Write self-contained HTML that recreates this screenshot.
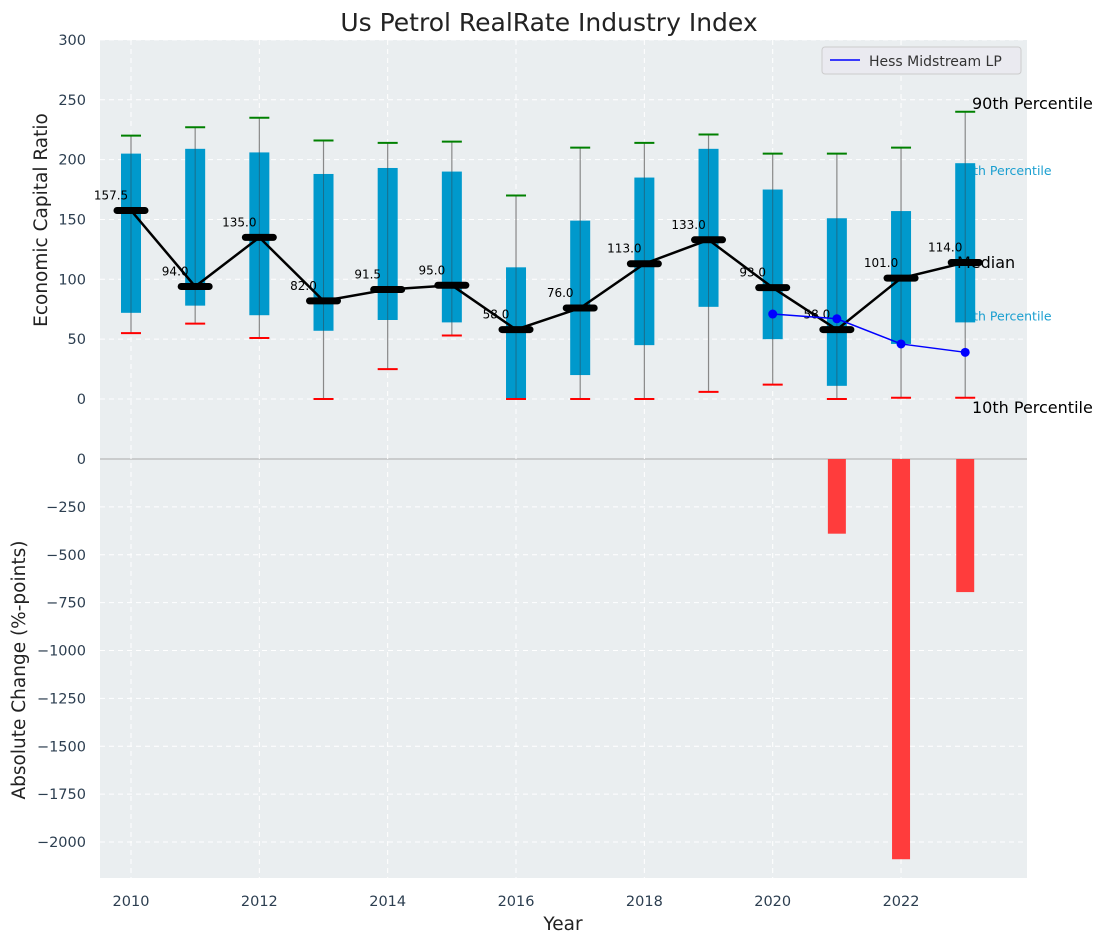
<!DOCTYPE html>
<html><head><meta charset="utf-8"><style>
body{margin:0;background:#fff;}
svg{display:block;font-family:"DejaVu Sans","Liberation Sans",sans-serif;}
</style></head><body>
<svg id="c" width="1107" height="942" xmlns="http://www.w3.org/2000/svg"></svg>
<script>
const years=[2010,2011,2012,2013,2014,2015,2016,2017,2018,2019,2020,2021,2022,2023];
const whiskerLow=[55,63,51,0,25,53,0,0,0,6,12,0,1,1];
const whiskerHigh=[220,227,235,216,214,215,170,210,214,221,205,205,210,240];
const boxLow=[72,78,70,57,66,64,0,20,45,77,50,11,46,64];
const boxHigh=[205,209,206,188,193,190,110,149,185,209,175,151,157,197];
const medians=[157.5,94,135,82,91.5,95,58,76,113,133,93,58,101,114];
const hessYears=[2020,2021,2022,2023];
const hessValues=[71,67,46,39];
const changeYears=[2021,2022,2023];
const changeValues=[-390,-2090,-695];
const topTicks=[0,50,100,150,200,250,300];
const botTicks=[0,-250,-500,-750,-1000,-1250,-1500,-1750,-2000];
const xTicks=[2010,2012,2014,2016,2018,2020,2022];

const NS="http://www.w3.org/2000/svg",svg=document.getElementById('c');
const X=v=>131+(v-2010)*64.17;
const YT=v=>399-v*1.197;
const YB=v=>459-v*0.1915;
function el(t,a,p){const e=document.createElementNS(NS,t);for(const k in a)e.setAttribute(k,a[k]);(p||svg).appendChild(e);return e;}
function tx(s,a){const e=el('text',a);e.textContent=s;return e;}

let r=el('rect',{x:100,y:40,width:927,height:419,fill:'#eaeef0'});

r=el('rect',{x:100,y:459,width:927,height:419,fill:'#eaeef0'});

el('line',{x1:100,x2:1027,y1:459,y2:459,stroke:'#aaa','stroke-width':1});
xTicks.forEach(v=>{el('line',{x1:X(v),x2:X(v),y1:40,y2:878,stroke:'#fff','stroke-dasharray':'5,4','stroke-width':1});
 const t=tx(String(v),{x:X(v),y:906,'text-anchor':'middle','font-size':14.5,fill:'#2c3e50'});
 });
topTicks.forEach(v=>{el('line',{x1:100,x2:1027,y1:YT(v),y2:YT(v),stroke:'#fff','stroke-dasharray':'5,4'});
 const t=tx(String(v),{x:86,y:YT(v)+5,'text-anchor':'end','font-size':14.5,fill:'#2c3e50'});
 });
botTicks.forEach(v=>{if(v!==0)el('line',{x1:100,x2:1027,y1:YB(v),y2:YB(v),stroke:'#fff','stroke-dasharray':'5,4'});
 const t=tx(String(v).replace('-','−'),{x:86,y:YB(v)+5,'text-anchor':'end','font-size':14.5,fill:'#2c3e50'});
 });

const last=years.length-1,lx=X(years[last]);
let a=tx('75th Percentile',{x:lx-8,y:YT(boxHigh[last])+12,'font-size':12.5,fill:'#1a9fd0'});

a=tx('25th Percentile',{x:lx-8,y:YT(boxLow[last])-2,'font-size':12.5,fill:'#1a9fd0'});


years.forEach((y,i)=>{
 const x=X(y);
 let w=el('line',{x1:x,x2:x,y1:YT(whiskerLow[i]),y2:YT(whiskerHigh[i]),stroke:'#888','stroke-width':1.2});
 
 let b=el('rect',{x:x-10,y:YT(boxHigh[i]),width:20,height:YT(boxLow[i])-YT(boxHigh[i]),fill:'#0099cc'});
 
 el('line',{x1:x,x2:x,y1:YT(boxLow[i]),y2:YT(boxHigh[i]),stroke:'#2a5060','stroke-width':1,opacity:0.6});
 let c=el('line',{x1:x-10,x2:x+10,y1:YT(whiskerHigh[i]),y2:YT(whiskerHigh[i]),stroke:'green','stroke-width':2});
 
 c=el('line',{x1:x-10,x2:x+10,y1:YT(whiskerLow[i]),y2:YT(whiskerLow[i]),stroke:'red','stroke-width':2});
 
});
let pl=el('polyline',{points:years.map((y,i)=>X(y)+','+YT(medians[i])).join(' '),fill:'none',stroke:'#000','stroke-width':2.5});

years.forEach((y,i)=>{
 const x=X(y);
 let m=el('line',{x1:x-14,x2:x+14,y1:YT(medians[i]),y2:YT(medians[i]),stroke:'#000','stroke-width':7,'stroke-linecap':'round'});
 
 let t=tx(medians[i].toFixed(1),{x:x-20,y:YT(medians[i])-11,'text-anchor':'middle','font-size':12,fill:'#000'});
 
});
pl=el('polyline',{points:hessYears.map((y,i)=>X(y)+','+YT(hessValues[i])).join(' '),fill:'none',stroke:'#0000ff','stroke-width':1.5});

hessYears.forEach((y,i)=>{let p=el('circle',{cx:X(y),cy:YT(hessValues[i]),r:4.5,fill:'#0000ff'});
 });
a=tx('90th Percentile',{x:972,y:109,'font-size':16,fill:'#000'});
a=tx('Median',{x:957,y:268,'font-size':16,fill:'#000'});
a=tx('10th Percentile',{x:972,y:413,'font-size':16,fill:'#000'});
changeYears.forEach((y,i)=>{let b=el('rect',{x:X(y)-9,y:YB(0),width:18,height:YB(changeValues[i])-YB(0),fill:'#ff3c3c'});
 });
let lg=el('g',{});
el('rect',{x:822,y:47,width:199,height:27,rx:3,fill:'#eaeaf0',stroke:'#ccc'},lg);
el('line',{x1:830,x2:860,y1:60,y2:60,stroke:'#0000ff','stroke-width':1.5},lg);
let lt=el('text',{x:869,y:66,'font-size':14,fill:'#333'},lg);lt.textContent='Hess Midstream LP';
a=tx('Us Petrol RealRate Industry Index',{x:549,y:31,'text-anchor':'middle','font-size':25,fill:'#222'});
a=tx('Year',{x:563,y:930,'text-anchor':'middle','font-size':18.5,fill:'#222'});
a=tx('Economic Capital Ratio',{x:0,y:0,'text-anchor':'middle','font-size':18.5,fill:'#222',transform:'translate(47,220) rotate(-90)'});
a=tx('Absolute Change (%-points)',{x:0,y:0,'text-anchor':'middle','font-size':18.5,fill:'#222',transform:'translate(25,670) rotate(-90)'});
</script>
</body></html>
